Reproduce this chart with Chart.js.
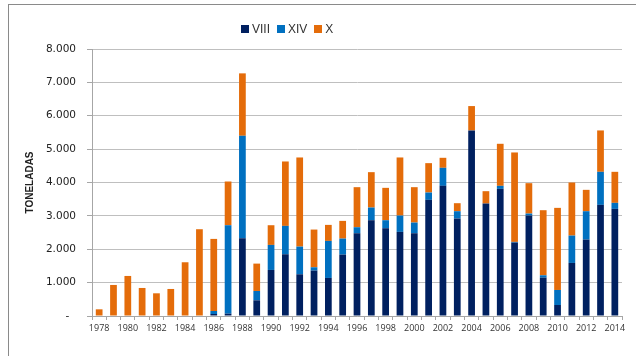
<!DOCTYPE html>
<html>
<head>
<meta charset="utf-8">
<script src="https://cdn.jsdelivr.net/npm/chart.js@4"></script>
<style>
    html, body { margin: 0; padding: 0; background: #fff; }
    #wrap { position: relative; width: 636px; height: 356px; overflow: hidden; }
    #frame {
        position: absolute; left: 8px; top: 4px; width: 700px; height: 400px;
        border-top: 1px solid #8a8a8a; border-left: 1px solid #8a8a8a;
    }
    #legend {
        position: absolute; top: 22px; left: 241px;
        font: 12px "Liberation Sans", Arial, sans-serif; color: #333;
        display: flex; gap: 7px; align-items: center;
    }
    #legend span { display: inline-flex; align-items: center; }
    #legend i { display: inline-block; width: 8px; height: 8px; margin-right: 3px; }
</style>
</head>
<body>
<div id="wrap">
    <canvas id="chart" width="636" height="356"></canvas>
    <div id="frame"></div>
    <div id="legend"></div>
</div>
<script>
const years = ['1978', '1979', '1980', '1981', '1982', '1983', '1984', '1985', '1986', '1987',
    '1988', '1989', '1990', '1991', '1992', '1993', '1994', '1995', '1996', '1997',
    '1998', '1999', '2000', '2001', '2002', '2003', '2004', '2005', '2006', '2007',
    '2008', '2009', '2010', '2011', '2012', '2013', '2014'];

const regionVIII = [0, 0, 0, 0, 0, 0, 0, 0, 60, 70,
    2330, 470, 1380, 1850, 1250, 1360, 1140, 1840, 2480, 2870,
    2630, 2520, 2480, 3480, 3900, 2920, 5560, 3370, 3810, 2200,
    3010, 1150, 330, 1590, 2290, 3330, 3210];

const regionXIV = [0, 0, 0, 0, 0, 0, 0, 0, 90, 2650,
    3070, 280, 750, 850, 830, 100, 1110, 480, 180, 380,
    240, 490, 320, 220, 540, 220, 0, 0, 90, 20,
    60, 70, 450, 820, 850, 990, 180];

const regionX = [200, 930, 1200, 840, 680, 810, 1610, 2600, 2160, 1310,
    1870, 820, 590, 1930, 2670, 1130, 480, 530, 1200, 1060,
    970, 1740, 1060, 880, 300, 240, 730, 370, 1260, 2680,
    910, 1950, 2460, 1590, 640, 1240, 930];

const yTicks = [0, 1000, 2000, 3000, 4000, 5000, 6000, 7000, 8000];

const series = [
    { label: 'VIII', data: regionVIII, color: '#002060' },
    { label: 'XIV', data: regionXIV, color: '#0070c0' },
    { label: 'X', data: regionX, color: '#e46c0a' }
];

const legend = document.getElementById('legend');
series.forEach(function (s) {
    const item = document.createElement('span');
    item.innerHTML = '<i style="background:' + s.color + '"></i>' + s.label;
    legend.appendChild(item);
});

const labelFont = { family: '"DejaVu Sans", sans-serif', size: 10.5 };

new Chart(document.getElementById('chart').getContext('2d'), {
    type: 'bar',
    data: {
        labels: years,
        datasets: series.map(function (s) {
            return {
                label: s.label,
                data: s.data,
                backgroundColor: s.color,
                barPercentage: 0.47,
                categoryPercentage: 1
            };
        })
    },
    options: {
        responsive: false,
        animation: false,
        layout: { padding: { left: 10, right: 14, top: 49, bottom: 14 } },
        plugins: {
            legend: { display: false },
            tooltip: { enabled: false }
        },
        scales: {
            x: {
                stacked: true,
                border: { color: '#a6a6a6' },
                grid: { drawOnChartArea: false, tickLength: 4, color: '#a6a6a6' },
                ticks: {
                    autoSkip: false,
                    maxRotation: 0,
                    padding: 3,
                    color: '#333',
                    font: { family: '"Open Sans", sans-serif', size: 9 },
                    callback: function (v, i) { return i % 2 === 0 ? years[i] : ''; }
                },
                afterFit: function (scale) { scale.height = 26; }
            },
            y: {
                stacked: true,
                min: 0,
                max: 8000,
                afterBuildTicks: function (scale) {
                    scale.ticks = yTicks.map(function (v) { return { value: v }; });
                },
                border: { color: '#a6a6a6' },
                grid: {
                    color: '#bfbfbf',
                    borderDash: [1, 1],
                    tickLength: 5,
                    tickBorderDash: [],
                    tickColor: '#a6a6a6'
                },
                ticks: {
                    padding: 11,
                    color: '#222',
                    font: labelFont,
                    callback: function (v) {
                        return v === 0 ? '-  ' : v.toLocaleString('de-DE');
                    }
                },
                title: {
                    display: true,
                    text: 'TONELADAS',
                    color: '#222',
                    font: { family: '"Liberation Sans", Arial, sans-serif', size: 10, weight: 'bold' },
                    padding: { top: 14, bottom: 0 }
                },
                afterFit: function (scale) { scale.width = 82; }
            }
        }
    }
});
</script>
</body>
</html>
